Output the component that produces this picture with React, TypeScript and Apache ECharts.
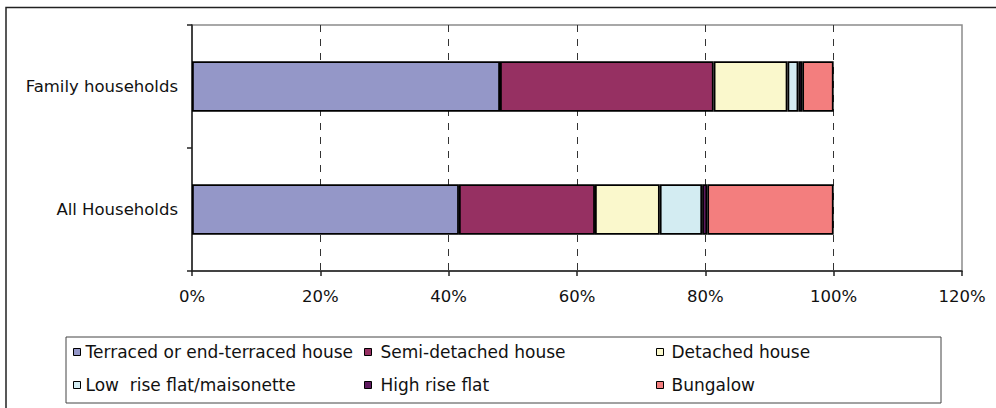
import { useEffect, useRef } from "react";
import * as echarts from "echarts";

const categories = ["Family households", "All Households"];
const seriesNames = [
  "Terraced or end-terraced house",
  "Semi-detached house",
  "Detached house",
  "Low  rise flat/maisonette",
  "High rise flat",
  "Bungalow",
];
const terraced = [48.0, 41.6];
const semiDetached = [33.3, 21.2];
const detached = [11.5, 10.1];
const lowRise = [1.7, 6.6];
const highRise = [0.6, 0.8];
const bungalow = [4.9, 19.7];
const axisMin = 0;
const axisMax = 120;
const axisInterval = 20;

const seriesValues = [terraced, semiDetached, detached, lowRise, highRise, bungalow];
const colors = ["#9497C8", "#963062", "#FAF8CC", "#D3ECF2", "#5E1A5E", "#F37E7E"];

const FONT = "DejaVu Sans";
const legendCols = [73, 364, 656];
const legendRows = [343.5, 376.5];
const legendTextPad = [0, 4, 3];

export default function App() {
  const ref = useRef<HTMLDivElement>(null);
  useEffect(() => {
    if (!ref.current) return;
    const chart = echarts.init(ref.current, undefined, { renderer: "svg" });
    const legends = seriesNames.map((name, i) => {
      const col = i % 3;
      const row = Math.floor(i / 3);
      return {
        data: [name],
        left: legendCols[col],
        top: legendRows[row],
        padding: 0,
        itemWidth: 7,
        itemHeight: 7,
        icon: "rect",
        selectedMode: false,
        itemStyle: { borderColor: "#000", borderWidth: 1 },
        textStyle: {
          fontFamily: FONT,
          fontSize: 17,
          color: "#111",
          padding: [0, 0, 0, legendTextPad[col]],
        },
      };
    });
    chart.setOption({
      animation: false,
      backgroundColor: "#fff",
      textStyle: { fontFamily: FONT },
      grid: {
        left: 192,
        right: 34,
        top: 25,
        bottom: 137,
        show: true,
        borderColor: "#8c8c8c",
        borderWidth: 1.5,
        backgroundColor: "transparent",
      },
      legend: legends,
      graphic: [
        {
          type: "rect",
          shape: { x: 6, y: 7.5, width: 1000, height: 420 },
          style: { fill: "none", stroke: "#222", lineWidth: 1.5 },
          silent: true,
        },
        {
          type: "rect",
          shape: { x: 66, y: 337, width: 875, height: 66 },
          style: { fill: "none", stroke: "#444", lineWidth: 1 },
          silent: true,
        },
      ],
      xAxis: {
        type: "value",
        min: axisMin,
        max: axisMax,
        interval: axisInterval,
        axisLine: { show: true, lineStyle: { color: "#222", width: 1.5 } },
        axisTick: { show: true, length: 5, lineStyle: { color: "#222", width: 1.5 } },
        axisLabel: {
          formatter: "{value}%",
          fontFamily: FONT,
          fontSize: 16.5,
          color: "#111",
          margin: 17,
        },
        splitLine: {
          show: true,
          showMinLine: false,
          showMaxLine: false,
          lineStyle: { color: "#333", width: 1, type: [7, 7] },
        },
      },
      yAxis: {
        type: "category",
        data: categories,
        inverse: true,
        axisLine: { show: true, lineStyle: { color: "#222", width: 1.5 } },
        axisTick: { show: true, length: 5, lineStyle: { color: "#222", width: 1.5 } },
        axisLabel: { fontFamily: FONT, fontSize: 16.5, color: "#111", margin: 14 },
        splitLine: { show: false },
      },
      series: seriesNames.map((name, i) => ({
        name,
        type: "bar",
        stack: "total",
        barWidth: "41%",
        data: seriesValues[i],
        itemStyle: { color: colors[i], borderColor: "#000", borderWidth: 1.8 },
      })),
    });
    return () => chart.dispose();
  }, []);
  return (
    <div
      ref={ref}
      style={{ position: "absolute", left: 0, top: 0, width: 996, height: 408 }}
    />
  );
}
